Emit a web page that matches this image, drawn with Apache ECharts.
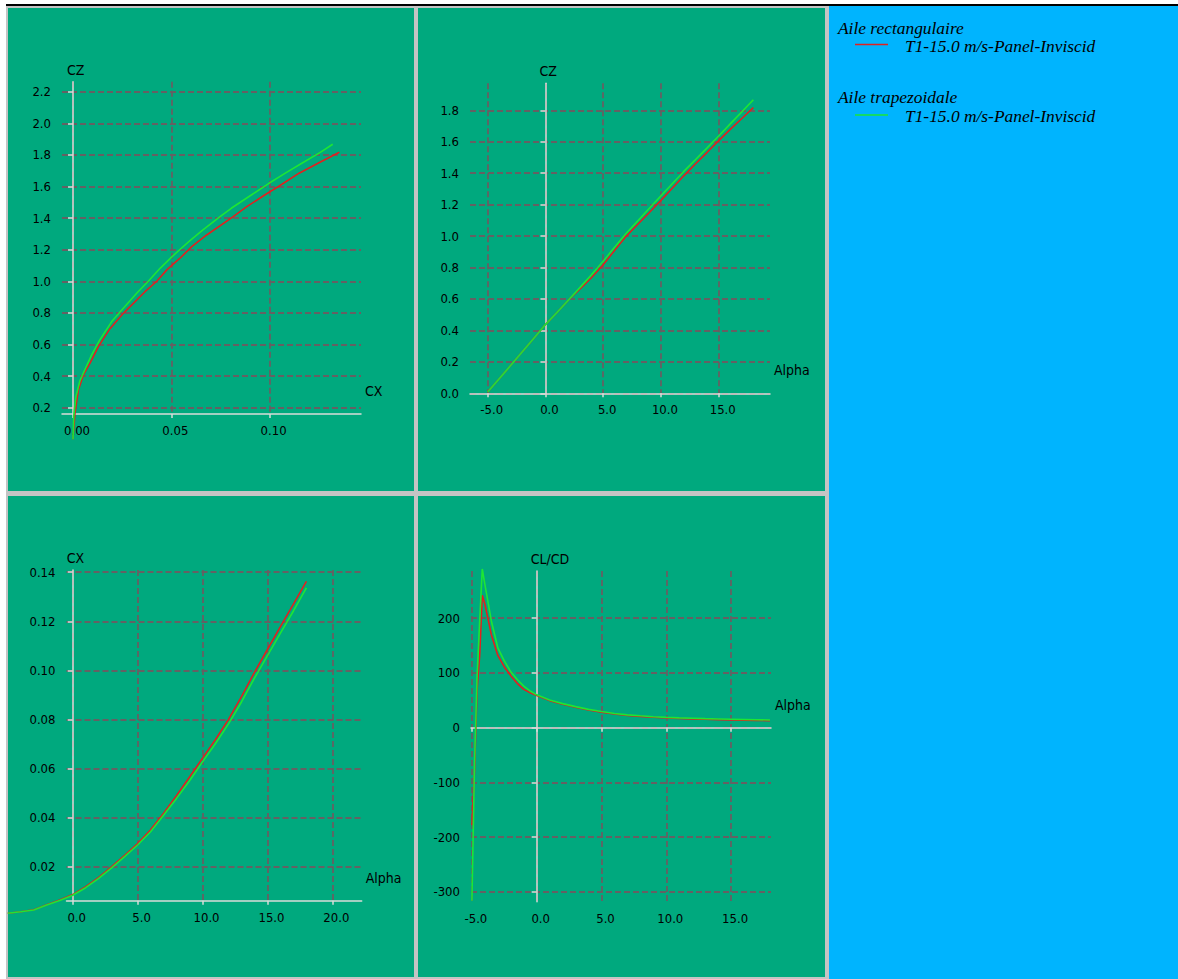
<!DOCTYPE html>
<html>
<head>
<meta charset="utf-8">
<title>Polaires aile rectangulaire / trapezoidale</title>
<script src="https://cdn.jsdelivr.net/npm/echarts@6/dist/echarts.min.js"></script>
<style>
  html, body { margin: 0; padding: 0; background: #ffffff; }
  #chart { width: 1178px; height: 979px; }
</style>
</head>
<body>
<div id="chart"></div>
<script>
// ---- Polar data: T1-15.0 m/s-Panel-Inviscid ----
// angle of attack sweep (deg)
const alphaDeg = [-5, -4, -3, -2, -1, 0, 1, 2, 3, 4, 5, 6, 7, 8, 9, 10, 11, 12, 13, 14, 15, 16, 17, 18];

// lift coefficient vs alpha
const czRect = [0.008, 0.093, 0.178, 0.264, 0.350, 0.437, 0.514, 0.594, 0.664, 0.737, 0.818, 0.910, 1.000, 1.075, 1.150, 1.227, 1.306, 1.385, 1.460, 1.533, 1.607, 1.679, 1.748, 1.817];
const czTrap = [0.008, 0.093, 0.178, 0.264, 0.350, 0.437, 0.514, 0.594, 0.674, 0.755, 0.840, 0.930, 1.018, 1.097, 1.177, 1.256, 1.335, 1.413, 1.487, 1.561, 1.637, 1.714, 1.790, 1.867];

// drag coefficient vs alpha
const cxRect = [0.0010, 0.0016, 0.0024, 0.0044, 0.0064, 0.0086, 0.0118, 0.0156, 0.0200, 0.0246, 0.0294, 0.0350, 0.0418, 0.0490, 0.0565, 0.0642, 0.0718, 0.0800, 0.0893, 0.0992, 0.1085, 0.1178, 0.1270, 0.1363];
const cxTrap = [0.0010, 0.0016, 0.0023, 0.0043, 0.0062, 0.0083, 0.0114, 0.0152, 0.0195, 0.0241, 0.0288, 0.0342, 0.0409, 0.0478, 0.0550, 0.0627, 0.0702, 0.0782, 0.0871, 0.0968, 0.1060, 0.1152, 0.1242, 0.1336];

// drag polar (CZ against CX)
const polarCxRect = [0.0000, 0.0010, 0.0027, 0.0052, 0.0086, 0.0129, 0.0188, 0.0256, 0.0366, 0.0426, 0.0477, 0.0544, 0.0604, 0.0680, 0.0815, 0.0884, 0.0975, 0.1045, 0.1150, 0.1256, 0.1355];
const polarCzRect = [0.000, 0.166, 0.310, 0.406, 0.480, 0.586, 0.700, 0.797, 0.934, 1.000, 1.072, 1.146, 1.219, 1.293, 1.409, 1.472, 1.546, 1.600, 1.684, 1.753, 1.816];
const polarCxTrap = [0.0000, 0.0004, 0.0015, 0.0035, 0.0060, 0.0095, 0.0137, 0.0197, 0.0248, 0.0324, 0.0383, 0.0443, 0.0504, 0.0551, 0.0598, 0.0661, 0.0748, 0.0805, 0.0907, 0.0997, 0.1080, 0.1164, 0.1256, 0.1321];
const polarCzTrap = [0.000, 0.150, 0.270, 0.370, 0.440, 0.534, 0.630, 0.745, 0.818, 0.924, 1.000, 1.082, 1.156, 1.209, 1.261, 1.325, 1.409, 1.462, 1.546, 1.620, 1.684, 1.747, 1.814, 1.867];

// glide ratio vs alpha (finer sampling around zero lift)
const ldAlpha = [-5.0, -4.8, -4.6, -4.4, -4.2, -4.0, -3.5, -3.0, -2.5, -2.0, -1.5, -1.0, -0.5, 0, 1, 2, 3, 4, 5, 6, 7, 8, 9, 10, 11, 12, 13, 14, 15, 16, 17, 18];
const ldRect = [-178, -80, 70, 132, 242, 226, 170, 132, 111, 95, 81, 70, 64, 59, 49.5, 43, 37.5, 32.5, 28.5, 25, 22.5, 20.7, 19, 17.8, 16.9, 16.1, 15.4, 14.8, 14.3, 13.8, 13.3, 12.8];
const ldTrap = [-316, -66, 94, 195, 290, 262, 195, 146, 122, 102, 88, 76, 67, 60, 50.5, 44, 38.5, 33.5, 29.5, 26, 23.5, 21.7, 20, 18.8, 17.9, 17.2, 16.5, 16, 15.5, 15, 14.6, 14.2];

// tick values
const polarCxTicks = [0, 0.05, 0.10];
const polarCzTicks = [0.2, 0.4, 0.6, 0.8, 1.0, 1.2, 1.4, 1.6, 1.8, 2.0, 2.2];
const alphaTicksCz = [-5, 0, 5, 10, 15];
const czTicks = [0.0, 0.2, 0.4, 0.6, 0.8, 1.0, 1.2, 1.4, 1.6, 1.8];
const alphaTicksCx = [0, 5, 10, 15, 20];
const cxTicks = [0.02, 0.04, 0.06, 0.08, 0.10, 0.12, 0.14];
const alphaTicksLd = [-5, 0, 5, 10, 15];
const ldTicks = [-300, -200, -100, 0, 100, 200];

// legend entries
const legendGroups = ['Aile rectangulaire', 'Aile trapezoidale'];
const polarName = 'T1-15.0 m/s-Panel-Inviscid';

// ---- styling ----
const RED = '#e2201f';
const GREEN = '#1de634';
const PANEL = '#00a97e';
const AXIS_FONT = '"DejaVu Sans Condensed", "Liberation Sans Narrow", "DejaVu Sans", sans-serif';
const AXIS_COLOR = '#d9dcd9';

function zip(xs, ys) { return xs.map((x, i) => [x, ys[i]]); }

function axis(o) {
  const horizontal = o.dir === 'x';
  return {
    type: 'value',
    gridIndex: o.grid,
    min: o.min,
    max: o.max,
    name: o.name,
    nameLocation: 'end',
    nameGap: horizontal ? 4 : 5,
    nameTextStyle: horizontal
      ? { color: '#000', fontSize: 14, fontFamily: AXIS_FONT, align: 'left', verticalAlign: 'bottom', padding: [0, 0, 16, 0] }
      : { color: '#000', fontSize: 14, fontFamily: AXIS_FONT, align: 'left', verticalAlign: 'bottom', padding: [0, 0, 0, -6] },
    axisLine: { show: true, onZero: true, lineStyle: { color: AXIS_COLOR, width: 1.5 } },
    axisTick: {
      show: true, inside: false, length: horizontal ? 4 : 5,
      customValues: o.ticks,
      lineStyle: { color: AXIS_COLOR, width: 1.5 }
    },
    axisLabel: {
      show: true,
      customValues: o.ticks,
      margin: horizontal ? 10 : 11,
      color: '#000',
      fontSize: 13,
      fontFamily: AXIS_FONT,
      padding: horizontal ? [0, 0, 0, 8] : 0,
      formatter: (v) => v.toFixed(o.digits)
    },
    splitLine: { show: true, lineStyle: { color: '#656163', width: 1.8, type: [6, 3] } },
    splitArea: { show: false }
  };
}

// invisible axis used only to place a curve on the same scale as a visible one
function carrierAxis(grid, min, max) {
  return { type: 'value', gridIndex: grid, min: min, max: max, show: false, splitLine: { show: false } };
}

function curve(xs, ys, color, idx) {
  return {
    type: 'line',
    name: polarName,
    xAxisIndex: idx,
    yAxisIndex: idx,
    data: zip(xs, ys),
    symbol: 'none',
    showSymbol: false,
    clip: false,
    smooth: false,
    lineStyle: { color: color, width: 1.6 },
    itemStyle: { color: color },
    emphasis: { disabled: true },
    z: 3
  };
}

function rect(x, y, w, h, fill) {
  return { type: 'rect', z: -10, silent: true, shape: { x: x, y: y, width: w, height: h }, style: { fill: fill } };
}

function legendText(x, y, text) {
  return {
    type: 'text', z: 10, silent: true, x: x, y: y,
    style: { text: text, fill: '#000', fontSize: 17.4, fontStyle: 'italic', fontFamily: '"Liberation Serif", "DejaVu Serif", serif', verticalAlign: 'middle', align: 'left' }
  };
}

function legendLine(y, color) {
  return { type: 'line', z: 10, silent: true, shape: { x1: 855, y1: y, x2: 888, y2: y }, style: { stroke: color, lineWidth: 1.5 } };
}

const option = {
  animation: false,
  backgroundColor: '#ffffff',
  tooltip: { show: false },
  grid: [
    { left: 62, top: 81.7, width: 299, height: 332.3, containLabel: false, outerBoundsMode: 'none' },
    { left: 470, top: 83.3, width: 300, height: 310, containLabel: false, outerBoundsMode: 'none' },
    { left: 66.5, top: 570, width: 295.2, height: 330.7, containLabel: false, outerBoundsMode: 'none' },
    { left: 471, top: 571, width: 300, height: 330.7, containLabel: false, outerBoundsMode: 'none' },
    // same CX/alpha scale as the third grid, widened so the curve can run left of the CX axis
    { left: 7.15, top: 570, width: 354.55, height: 330.7, containLabel: false, outerBoundsMode: 'none', show: false }
  ],
  xAxis: [
    axis({ dir: 'x', grid: 0, min: -0.0056, max: 0.1465, name: 'CX', ticks: polarCxTicks, digits: 2 }),
    axis({ dir: 'x', grid: 1, min: -6.53, max: 19.44, name: 'Alpha', ticks: alphaTicksCz, digits: 1 }),
    axis({ dir: 'x', grid: 2, min: -0.48, max: 22.26, name: 'Alpha', ticks: alphaTicksCx, digits: 1 }),
    axis({ dir: 'x', grid: 3, min: -5.07, max: 18.08, name: 'Alpha', ticks: alphaTicksLd, digits: 1 }),
    carrierAxis(4, -5.05, 22.26)
  ],
  yAxis: [
    axis({ dir: 'y', grid: 0, min: 0.16, max: 2.263, name: 'CZ', ticks: polarCzTicks, digits: 1 }),
    axis({ dir: 'y', grid: 1, min: 0, max: 1.972, name: 'CZ', ticks: czTicks, digits: 1 }),
    axis({ dir: 'y', grid: 2, min: 0.0061, max: 0.1409, name: 'CX', ticks: cxTicks, digits: 2 }),
    axis({ dir: 'y', grid: 3, min: -317.9, max: 286.3, name: 'CL/CD', ticks: ldTicks, digits: 0 }),
    carrierAxis(4, 0.0061, 0.1409)
  ],
  series: [
    curve(polarCxRect, polarCzRect, RED, 0),
    curve(polarCxTrap, polarCzTrap, GREEN, 0),
    curve(alphaDeg, czRect, RED, 1),
    curve(alphaDeg, czTrap, GREEN, 1),
    curve(alphaDeg, cxRect, RED, 4),
    curve(alphaDeg, cxTrap, GREEN, 4),
    curve(ldAlpha, ldRect, RED, 3),
    curve(ldAlpha, ldTrap, GREEN, 3)
  ],
  graphic: {
    elements: [
      rect(6, 4, 1172, 2, '#000000'),
      rect(6, 6, 823, 973, '#c4c4c4'),
      rect(8, 8, 406, 483, PANEL),
      rect(418, 8, 407, 483, PANEL),
      rect(8, 496, 406, 481, PANEL),
      rect(418, 496, 407, 481, PANEL),
      rect(829, 6, 349, 973, '#00b4fe'),
      legendText(838, 27.5, legendGroups[0]),
      legendLine(44.5, RED),
      legendText(905, 45.9, polarName),
      legendText(838, 96.9, legendGroups[1]),
      legendLine(115, GREEN),
      legendText(905, 115.9, polarName)
    ]
  }
};

const chart = echarts.init(document.getElementById('chart'), null, { renderer: 'svg', width: 1178, height: 979 });
chart.setOption(option);
</script>
</body>
</html>
